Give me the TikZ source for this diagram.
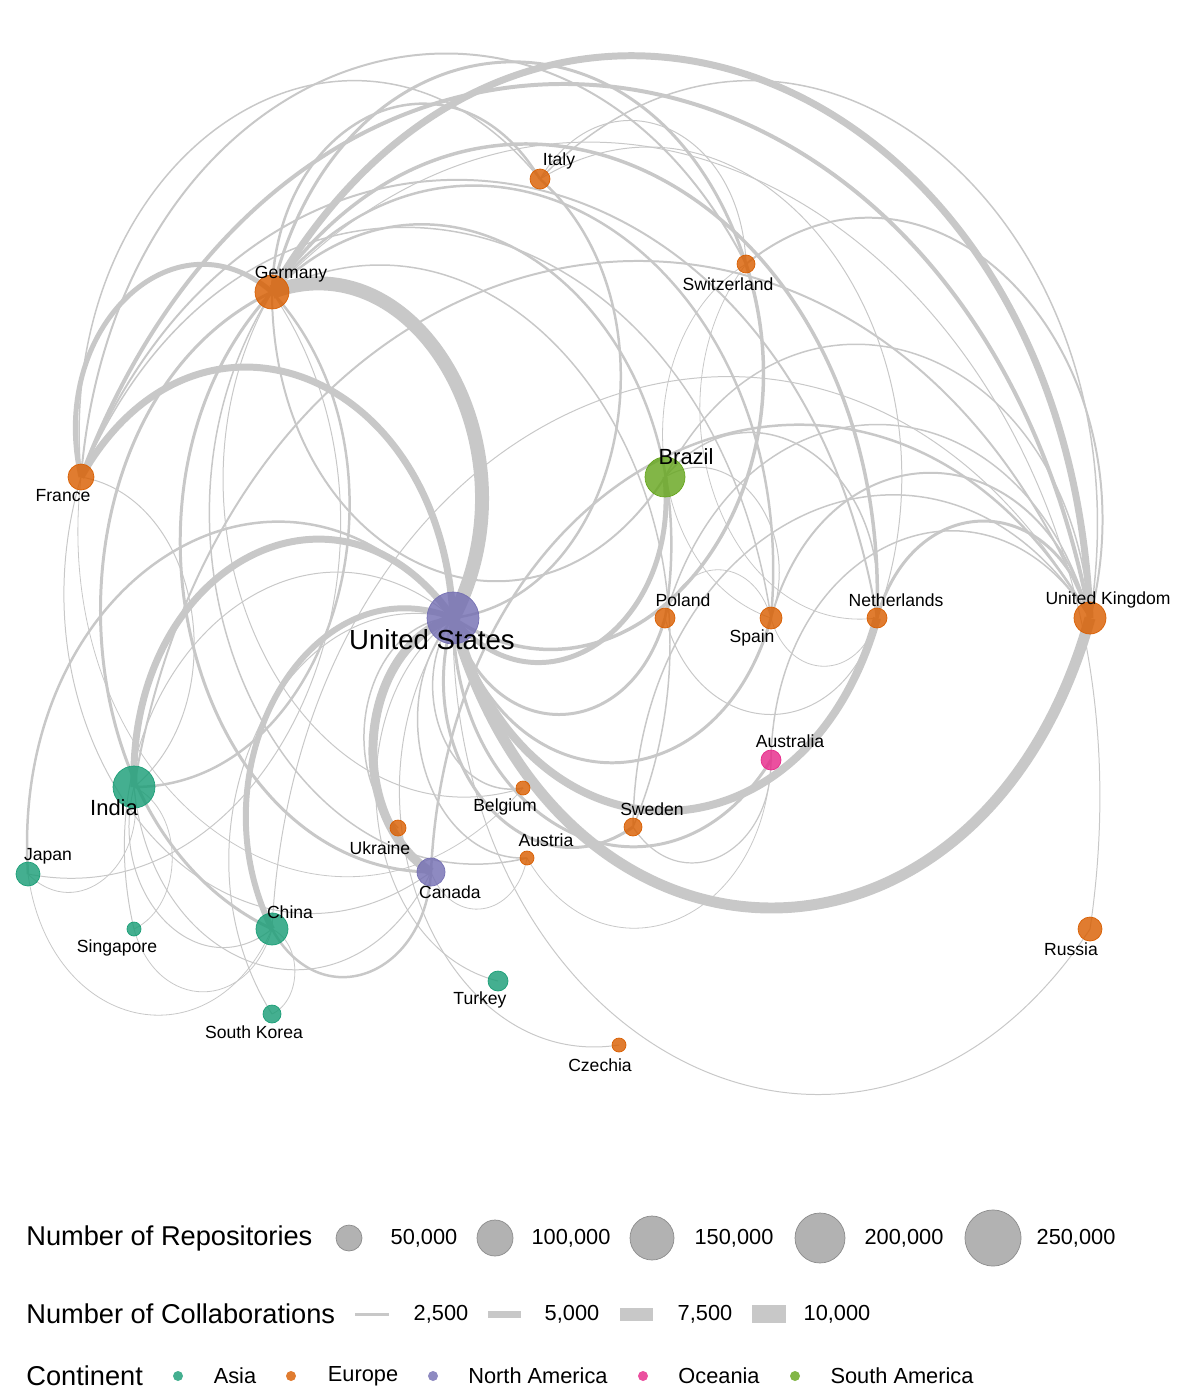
\documentclass[tikz,border=0pt]{standalone}
\usepackage{fontspec}
\setmainfont{Liberation Sans}
\usepackage{tikz}
\usetikzlibrary{backgrounds,calc}
\definecolor{asiac}{HTML}{1B9E77}
\definecolor{euroc}{HTML}{D95F02}
\definecolor{namc}{HTML}{7570B3}
\definecolor{ocec}{HTML}{E7298A}
\definecolor{samc}{HTML}{66A61E}
\definecolor{edgec}{HTML}{C8C8C8}
\tikzset{ctry/.style={circle,inner sep=0pt,fill opacity=0.82,minimum size=#1*0.04cm},
  asia/.style={ctry=#1,fill=asiac,draw=asiac},
  euro/.style={ctry=#1,fill=euroc,draw=euroc},
  namer/.style={ctry=#1,fill=namc,draw=namc},
  ocea/.style={ctry=#1,fill=ocec,draw=ocec},
  samer/.style={ctry=#1,fill=samc,draw=samc},
  lk/.style={draw=edgec,line width=#1*0.567pt},
  % arc bent to the left, flatter on steep chords
  arcl/.style={to path={let \p1=(\tikztostart), \p2=(\tikztotarget) in
    .. controls +({0.17*(\x2-\x1)-0.359*(\y2-\y1)},{0.17*(\y2-\y1)+0.607*(\x2-\x1)})
    and +({-0.17*(\x2-\x1)-0.359*(\y2-\y1)},{-0.17*(\y2-\y1)+0.607*(\x2-\x1)})
    .. (\tikztotarget)}},
  lbl/.style={inner sep=0pt,font=\fontsize{10}{12}\selectfont},
  lblm/.style={inner sep=0pt,font=\fontsize{12.5}{15}\selectfont},
  lblb/.style={inner sep=0pt,font=\fontsize{15.7}{18}\selectfont},
  legt/.style={inner sep=0pt,anchor=west,font=\fontsize{15.5}{18}\selectfont},
  legl/.style={inner sep=0pt,font=\fontsize{12.4}{15}\selectfont},
  repo/.style={circle,inner sep=0pt,fill=black!30,draw=black!45,minimum size=#1*0.04cm},
  dot/.style={circle,inner sep=0pt,minimum size=0.2cm,fill opacity=0.82}}

\begin{document}
\begin{tikzpicture}[x=0.02cm,y=-0.02cm]
        \useasboundingbox (0,0) rectangle (1179,1389);

        \node[namer=26] (us) at (453,618) {};
        \node[euro=17] (germany) at (272,292) {};
        \node[euro=13] (france) at (81,477) {};
        \node[euro=10] (italy) at (540,179) {};
        \node[euro=9] (switzerland) at (746,264) {};
        \node[samer=20] (brazil) at (665,477) {};
        \node[euro=10] (poland) at (665,618) {};
        \node[euro=11] (spain) at (771,618) {};
        \node[euro=10] (netherlands) at (877,618) {};
        \node[euro=16] (uk) at (1090,618) {};
        \node[asia=21] (india) at (134,787) {};
        \node[asia=12] (japan) at (28,874) {};
        \node[asia=7] (singapore) at (134,929) {};
        \node[asia=16] (china) at (272,929) {};
        \node[asia=9] (southkorea) at (272,1014) {};
        \node[euro=8] (ukraine) at (398,828) {};
        \node[namer=14] (canada) at (431,872) {};
        \node[euro=7] (belgium) at (523,788) {};
        \node[euro=7] (austria) at (527,858) {};
        \node[euro=9] (sweden) at (633,827) {};
        \node[ocea=10] (australia) at (771,760) {};
        \node[asia=10] (turkey) at (498,981) {};
        \node[euro=7] (czechia) at (619,1045) {};
        \node[euro=12] (russia) at (1090,929) {};

        \begin{scope}[on background layer]
        % links with the United States
        \draw[lk=14] (germany.center) to[arcl] (us.center);
        \draw[lk=11] (uk.center) to[arcl] (us.center);
        \draw[lk=9] (canada.center) to[arcl] (us.center);
        \draw[lk=8] (netherlands.center) to[arcl] (us.center);
        \draw[lk=7] (france.center) to[arcl] (us.center);
        \draw[lk=7] (india.center) to[arcl] (us.center);
        \draw[lk=6] (china.center) to[arcl] (us.center);
        \draw[lk=5] (brazil.center) to[arcl] (us.center);
        \draw[lk=3.5] (switzerland.center) to[arcl] (us.center);
        \draw[lk=3] (poland.center) to[arcl] (us.center);
        \draw[lk=3] (spain.center) to[arcl] (us.center);
        \draw[lk=3] (sweden.center) to[arcl] (us.center);
        \draw[lk=3] (australia.center) to[arcl] (us.center);
        \draw[lk=2.5] (japan.center) to[arcl] (us.center);
        \draw[lk=2.5] (italy.center) to[arcl] (us.center);
        \draw[lk=1.5] (ukraine.center) to[arcl] (us.center);
        \draw[lk=1.5] (belgium.center) to[arcl] (us.center);
        \draw[lk=1.5] (austria.center) to[arcl] (us.center);
        \draw[lk=1] (singapore.center) to[arcl] (us.center);
        \draw[lk=1] (southkorea.center) to[arcl] (us.center);
        \draw[lk=1] (turkey.center) to[arcl] (us.center);
        \draw[lk=1] (czechia.center) to[arcl] (us.center);
        \draw[lk=1] (russia.center) to[arcl] (us.center);
        % links with the United Kingdom
        \draw[lk=7] (germany.center) to[arcl] (uk.center);
        \draw[lk=4] (france.center) to[arcl] (uk.center);
        \draw[lk=3] (netherlands.center) to[arcl] (uk.center);
        \draw[lk=2.5] (canada.center) to[arcl] (uk.center);
        \draw[lk=2] (india.center) to[arcl] (uk.center);
        \draw[lk=2] (switzerland.center) to[arcl] (uk.center);
        \draw[lk=2] (spain.center) to[arcl] (uk.center);
        \draw[lk=1.5] (poland.center) to[arcl] (uk.center);
        \draw[lk=1.5] (italy.center) to[arcl] (uk.center);
        \draw[lk=1.5] (brazil.center) to[arcl] (uk.center);
        \draw[lk=1.5] (sweden.center) to[arcl] (uk.center);
        \draw[lk=1.5] (australia.center) to[arcl] (uk.center);
        \draw[lk=1] (china.center) to[arcl] (uk.center);
        % links with Germany
        \draw[lk=5] (france.center) to[arcl] (germany.center);
        \draw[lk=3.5] (germany.center) to[arcl] (netherlands.center);
        \draw[lk=3] (germany.center) to[arcl] (switzerland.center);
        \draw[lk=3] (china.center) to[arcl] (germany.center);
        \draw[lk=3] (canada.center) to[arcl] (germany.center);
        \draw[lk=2.5] (germany.center) to[arcl] (italy.center);
        \draw[lk=2.5] (germany.center) to[arcl] (spain.center);
        \draw[lk=2.5] (germany.center) to[arcl] (poland.center);
        \draw[lk=2.5] (germany.center) to[arcl] (india.center);
        \draw[lk=2] (brazil.center) to[arcl] (germany.center);
        \draw[lk=1.5] (austria.center) to[arcl] (germany.center);
        \draw[lk=1.5] (germany.center) to[arcl] (sweden.center);
        \draw[lk=1] (germany.center) to[arcl] (russia.center);
        \draw[lk=1] (germany.center) to[arcl] (japan.center);
        \draw[lk=1] (belgium.center) to[arcl] (germany.center);
        % links with France
        \draw[lk=2] (france.center) to[arcl] (switzerland.center);
        \draw[lk=2] (france.center) to[arcl] (netherlands.center);
        \draw[lk=1.5] (france.center) to[arcl] (spain.center);
        \draw[lk=1.5] (france.center) to[arcl] (italy.center);
        \draw[lk=1] (france.center) to[arcl] (india.center);
        \draw[lk=1] (canada.center) to[arcl] (france.center);
        \draw[lk=0.8] (belgium.center) to[arcl] (france.center);
        % the rest
        \draw[lk=2.5] (canada.center) to[arcl] (china.center);
        \draw[lk=1] (canada.center) to[arcl] (india.center);
        \draw[lk=0.8] (austria.center) to[arcl] (canada.center);
        \draw[lk=1] (china.center) to[arcl] (india.center);
        \draw[lk=0.8] (china.center) to[arcl] (japan.center);
        \draw[lk=0.8] (china.center) to[arcl] (southkorea.center);
        \draw[lk=0.8] (china.center) to[arcl] (singapore.center);
        \draw[lk=0.8] (india.center) to[arcl] (singapore.center);
        \draw[lk=0.8] (india.center) to[arcl] (japan.center);
        \draw[lk=1.5] (brazil.center) to[arcl] (netherlands.center);
        \draw[lk=1] (brazil.center) to[arcl] (spain.center);
        \draw[lk=1] (italy.center) to[arcl] (switzerland.center);
        \draw[lk=1] (italy.center) to[arcl] (netherlands.center);
        \draw[lk=0.8] (netherlands.center) to[arcl] (switzerland.center);
        \draw[lk=0.8] (spain.center) to[arcl] (switzerland.center);
        \draw[lk=1] (netherlands.center) to[arcl] (poland.center);
        \draw[lk=0.8] (netherlands.center) to[arcl] (spain.center);
        \draw[lk=0.8] (poland.center) to[arcl] (spain.center);
        \draw[lk=1.2] (australia.center) to[arcl] (sweden.center);
        \draw[lk=0.8] (australia.center) to[arcl] (austria.center);
        \end{scope}

        \node[lblb] (tus) at (432,640) {United States};
        \node[lbl] (tgermany) at (291,274) {Germany};
        \node[lbl] (tfrance) at (63,496) {France};
        \node[lbl] (titaly) at (559,161) {Italy};
        \node[lbl] (tswitzerland) at (728,284) {Switzerland};
        \node[lblm] (tbrazil) at (686,457) {Brazil};
        \node[lbl] (tpoland) at (683,600) {Poland};
        \node[lbl] (tspain) at (752,638) {Spain};
        \node[lbl] (tnetherlands) at (896,600) {Netherlands};
        \node[lbl] (tuk) at (1108,600) {United Kingdom};
        \node[lblm] (tindia) at (114,808) {India};
        \node[lbl] (tjapan) at (48,856) {Japan};
        \node[lbl] (tsingapore) at (117,948) {Singapore};
        \node[lbl] (tchina) at (290,912) {China};
        \node[lbl] (tsouthkorea) at (254,1032) {South Korea};
        \node[lbl] (tukraine) at (380,848) {Ukraine};
        \node[lbl] (tcanada) at (450,892) {Canada};
        \node[lbl] (tbelgium) at (505,807) {Belgium};
        \node[lbl] (taustria) at (546,840) {Austria};
        \node[lbl] (tsweden) at (652,809) {Sweden};
        \node[lbl] (taustralia) at (790,741) {Australia};
        \node[lbl] (tturkey) at (480,1000) {Turkey};
        \node[lbl] (tczechia) at (600,1065) {Czechia};
        \node[lbl] (trussia) at (1071,949) {Russia};

        % legend
        \node[legt] (hrepo) at (26,1238) {Number of Repositories};
        \node[repo=13] (r1) at (349,1238) {};
        \node[repo=18] (r2) at (495,1238) {};
        \node[repo=22] (r3) at (652,1238) {};
        \node[repo=25] (r4) at (820,1238) {};
        \node[repo=28] (r5) at (993,1238) {};
        \node[legl] (tr1) at (424,1238) {50,000};
        \node[legl] (tr2) at (571,1238) {100,000};
        \node[legl] (tr3) at (734,1238) {150,000};
        \node[legl] (tr4) at (904,1238) {200,000};
        \node[legl] (tr5) at (1076,1238) {250,000};

        \node[legt] (hcollab) at (26,1314) {Number of Collaborations};
        \fill[edgec] (355,1312.5) rectangle (389,1315.5);
        \fill[edgec] (488,1310.5) rectangle (521,1317.5);
        \fill[edgec] (620,1307.5) rectangle (653,1320.5);
        \fill[edgec] (752,1305) rectangle (786,1323);
        \node[legl] (tc1) at (441,1314) {2,500};
        \node[legl] (tc2) at (572,1314) {5,000};
        \node[legl] (tc3) at (705,1314) {7,500};
        \node[legl] (tc4) at (837,1314) {10,000};

        \node[legt] (hcont) at (26,1376) {Continent};
        \node[dot,fill=asiac] (d1) at (178,1376) {};
        \node[dot,fill=euroc] (d2) at (291,1376) {};
        \node[dot,fill=namc] (d3) at (433,1376) {};
        \node[dot,fill=ocec] (d4) at (643,1376) {};
        \node[dot,fill=samc] (d5) at (795,1376) {};
        \node[legl] (tasia) at (235,1376) {Asia};
        \node[legl] (teurope) at (363,1376) {Europe};
        \node[legl] (tnam) at (538,1376) {North America};
        \node[legl] (tocea) at (719,1376) {Oceania};
        \node[legl] (tsam) at (902,1376) {South America};
    \end{tikzpicture}
\end{document}
